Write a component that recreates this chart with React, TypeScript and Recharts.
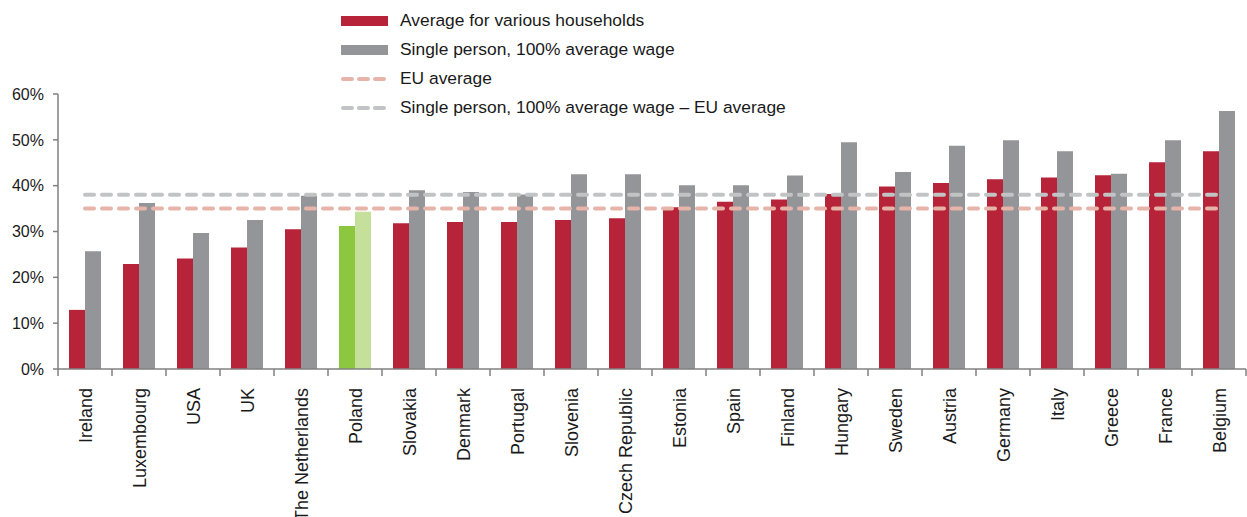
import { ComposedChart, Bar, Line, XAxis, YAxis, Cell } from "recharts";

const categories = [
  "Ireland", "Luxembourg", "USA", "UK", "The Netherlands", "Poland", "Slovakia", "Denmark",
  "Portugal", "Slovenia", "Czech Republic", "Estonia", "Spain", "Finland", "Hungary", "Sweden",
  "Austria", "Germany", "Italy", "Greece", "France", "Belgium",
];
const avgHouseholds = [
  12.9, 22.9, 24.1, 26.5, 30.5, 31.2, 31.8, 32.1, 32.1, 32.5, 32.9,
  35.3, 36.5, 37.0, 38.2, 39.8, 40.6, 41.4, 41.8, 42.3, 45.1, 47.5,
];
const singlePerson = [
  25.7, 36.2, 29.7, 32.5, 37.8, 34.3, 39.0, 38.6, 38.1, 42.5, 42.5,
  40.1, 40.1, 42.2, 49.5, 43.0, 48.7, 49.9, 47.5, 42.6, 49.9, 56.3,
];
const euAverage = 35;
const euSingleAverage = 38;
const yTicks = [0, 10, 20, 30, 40, 50, 60];

const RED = "#b72338";
const GRAY = "#949599";
const GREEN = "#8dc63f";
const LIGHT_GREEN = "#c5e09b";
const EU_PINK = "#e6b4a9";
const EU_GRAY = "#c1c3c5";
const FONT = "'Liberation Sans', Arial, sans-serif";

const W = 1247;
const H = 517;
const LEFT = 58;
const RIGHT = 1;
const BAND = (W - LEFT - RIGHT) / categories.length;

const data = categories.map((name, i) => ({
  name,
  avg: avgHouseholds[i],
  single: singlePerson[i],
  eu: euAverage,
  euSingle: euSingleAverage,
}));

const legendItems = [
  { label: "Average for various households", color: RED, dashed: false },
  { label: "Single person, 100% average wage", color: GRAY, dashed: false },
  { label: "EU average", color: EU_PINK, dashed: true },
  { label: "Single person, 100% average wage \u2013 EU average", color: EU_GRAY, dashed: true },
];

function LegendBox() {
  return (
    <div
      style={{
        position: "absolute",
        left: 340,
        top: 6,
        fontFamily: FONT,
        fontSize: 17.4,
        color: "#1a1a1a",
        lineHeight: "29px",
      }}
    >
      {legendItems.map((it) => (
        <div key={it.label} style={{ display: "flex", alignItems: "center", height: 29 }}>
          <svg width={60} height={10} style={{ flex: "none" }}>
            {it.dashed ? (
              <line x1={3} x2={47} y1={5} y2={5} stroke={it.color} strokeWidth={4} strokeDasharray="9 7" strokeLinecap="round" />
            ) : (
              <rect x={1} y={0} width={47} height={10} fill={it.color} />
            )}
          </svg>
          <span style={{ whiteSpace: "nowrap" }}>{it.label}</span>
        </div>
      ))}
    </div>
  );
}

function CountryTick(props: any) {
  const { x, y, payload, index } = props;
  const last = index === categories.length - 1;
  return (
    <g>
      <line x1={x - BAND / 2} x2={x - BAND / 2} y1={y} y2={y + 7} stroke="#808080" strokeWidth={1.5} />
      {last && <line x1={x + BAND / 2} x2={x + BAND / 2} y1={y} y2={y + 7} stroke="#808080" strokeWidth={1.5} />}
      <text
        x={x + 7}
        y={y + 19}
        transform={`rotate(-90, ${x + 7}, ${y + 19})`}
        textAnchor="end"
        fontSize={18}
        fontFamily={FONT}
        fill="#1a1a1a"
      >
        {payload.value}
      </text>
    </g>
  );
}

export default function App() {
  return (
    <div style={{ position: "absolute", left: 0, top: 0, width: W, height: H, background: "#fff" }}>
      <ComposedChart
        width={W}
        height={H}
        data={data}
        margin={{ top: 94, right: RIGHT, bottom: 0, left: 0 }}
        barGap={0}
        barSize={16}
      >
        <XAxis
          dataKey="name"
          interval={0}
          height={148}
          tickLine={false}
          tickSize={0}
          tickMargin={0}
          axisLine={{ stroke: "#808080", strokeWidth: 1.5 }}
          tick={<CountryTick />}
        />
        <YAxis
          width={LEFT}
          domain={[0, 60]}
          ticks={yTicks}
          tickFormatter={(v) => `${v}%`}
          tickSize={5}
          tickMargin={9}
          axisLine={{ stroke: "#808080", strokeWidth: 1.5 }}
          tickLine={{ stroke: "#808080", strokeWidth: 1.5 }}
          tick={{ fill: "#1a1a1a", fontSize: 16, fontFamily: FONT }}
        />
        <Bar dataKey="avg" fill={RED} isAnimationActive={false}>
          {data.map((d) => (
            <Cell key={d.name} fill={d.name === "Poland" ? GREEN : RED} />
          ))}
        </Bar>
        <Bar dataKey="single" fill={GRAY} isAnimationActive={false}>
          {data.map((d) => (
            <Cell key={d.name} fill={d.name === "Poland" ? LIGHT_GREEN : GRAY} />
          ))}
        </Bar>
        <Line
          dataKey="euSingle"
          stroke={EU_GRAY}
          strokeWidth={4}
          strokeDasharray="9 8"
          strokeLinecap="round"
          dot={false}
          activeDot={false}
          isAnimationActive={false}
        />
        <Line
          dataKey="eu"
          stroke={EU_PINK}
          strokeWidth={4}
          strokeDasharray="9 8"
          strokeLinecap="round"
          dot={false}
          activeDot={false}
          isAnimationActive={false}
        />
      </ComposedChart>
      <LegendBox />
    </div>
  );
}
